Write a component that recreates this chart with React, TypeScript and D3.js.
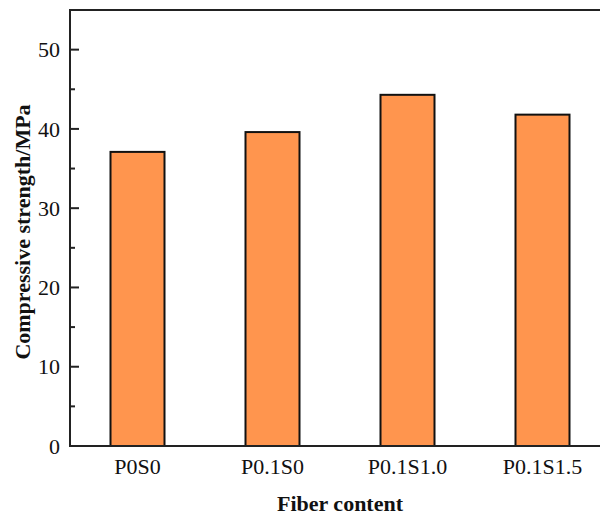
import { useEffect, useRef } from 'react';
import * as d3 from 'd3';

const categories = ['P0S0', 'P0.1S0', 'P0.1S1.0', 'P0.1S1.5'];
const strengths = [37.1, 39.6, 44.3, 41.8];
const yTicks = [0, 10, 20, 30, 40, 50];
const yMinorTicks = [5, 15, 25, 35, 45];

const width = 600;
const height = 515;
const margin = { top: 10, right: -10, bottom: 69, left: 70 };
const FONT = '"Liberation Serif", "Times New Roman", serif';
const BAR_FILL = '#ff954e';

export default function App() {
  const svgRef = useRef<SVGSVGElement>(null);

  useEffect(() => {
    const svg = d3.select(svgRef.current);
    svg.selectAll('*').remove();

    const x0 = margin.left;
    const x1 = width - margin.right;
    const y0 = height - margin.bottom;
    const y1 = margin.top;

    const x = d3.scaleBand<string>().domain(categories).range([x0, x1]).paddingInner(0).paddingOuter(0);
    const y = d3.scaleLinear().domain([0, 55]).range([y0, y1]);
    const barW = x.bandwidth() * 0.4;

    // bars
    svg
      .append('g')
      .selectAll('rect')
      .data(categories)
      .join('rect')
      .attr('x', (d) => x(d)! + (x.bandwidth() - barW) / 2)
      .attr('y', (_, i) => y(strengths[i]))
      .attr('width', barW)
      .attr('height', (_, i) => y(0) - y(strengths[i]))
      .attr('fill', BAR_FILL)
      .attr('stroke', '#111')
      .attr('stroke-width', 2);

    const axis = svg.append('g').attr('stroke', '#222').attr('stroke-width', 2).attr('fill', 'none');

    // frame: left, bottom, top
    axis.append('line').attr('x1', x0).attr('x2', x0).attr('y1', y0 + 1).attr('y2', y1 - 1);
    axis.append('line').attr('x1', x0 - 1).attr('x2', x1).attr('y1', y0).attr('y2', y0);
    axis.append('line').attr('x1', x0 - 1).attr('x2', x1).attr('y1', y1).attr('y2', y1);

    // ticks point inward
    axis
      .selectAll('.major')
      .data(yTicks)
      .join('line')
      .attr('x1', x0)
      .attr('x2', x0 + 9)
      .attr('y1', (d) => y(d))
      .attr('y2', (d) => y(d));
    axis
      .selectAll('.minor')
      .data(yMinorTicks)
      .join('line')
      .attr('x1', x0)
      .attr('x2', x0 + 5)
      .attr('y1', (d) => y(d))
      .attr('y2', (d) => y(d));

    svg
      .append('g')
      .selectAll('text')
      .data(yTicks)
      .join('text')
      .attr('x', x0 - 10)
      .attr('y', (d) => y(d))
      .attr('dy', '0.35em')
      .attr('text-anchor', 'end')
      .attr('font-family', FONT)
      .attr('font-size', 22)
      .attr('fill', '#111')
      .text((d) => d);

    svg
      .append('g')
      .selectAll('text')
      .data(categories)
      .join('text')
      .attr('x', (d) => x(d)! + x.bandwidth() / 2)
      .attr('y', y0 + 28)
      .attr('text-anchor', 'middle')
      .attr('font-family', FONT)
      .attr('font-size', 22)
      .attr('fill', '#111')
      .text((d) => d);

    svg
      .append('text')
      .attr('x', 340)
      .attr('y', height - 4)
      .attr('text-anchor', 'middle')
      .attr('font-family', FONT)
      .attr('font-size', 22)
      .attr('font-weight', 'bold')
      .attr('fill', '#111')
      .text('Fiber content');

    svg
      .append('text')
      .attr('transform', `translate(30,232) rotate(-90)`)
      .attr('text-anchor', 'middle')
      .attr('font-family', FONT)
      .attr('font-size', 22)
      .attr('font-weight', 'bold')
      .attr('fill', '#111')
      .text('Compressive strength/MPa');
  }, []);

  return (
    <svg
      ref={svgRef}
      width={width}
      height={height}
      style={{ position: 'absolute', left: 0, top: 0, background: '#fff' }}
    />
  );
}
